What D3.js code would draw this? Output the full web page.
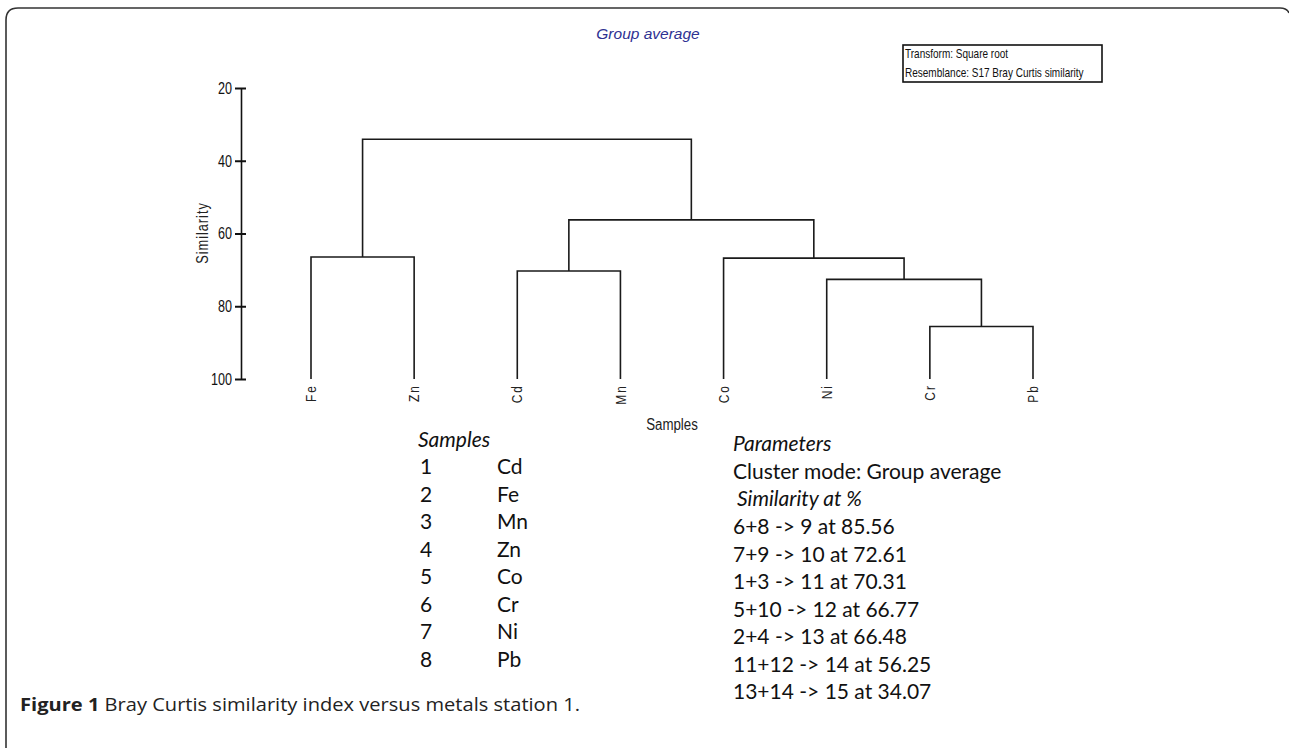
<!DOCTYPE html>
<html>
<head>
<meta charset="utf-8">
<script src="https://cdn.jsdelivr.net/npm/d3@7"></script>
<style>
  body { margin: 0; background: #fff; }
  svg { display: block; }
  .narrow { font-family: "Liberation Sans", Arial, sans-serif; }
  .calibri { font-family: Lato, "Open Sans", sans-serif; }
</style>
</head>
<body>
<div id="chart"></div>
<script>
// leaf order on the dendrogram
const leaves = ["Fe", "Zn", "Cd", "Mn", "Co", "Ni", "Cr", "Pb"];

// sample table
const sampleNums = [1, 2, 3, 4, 5, 6, 7, 8];
const sampleNames = ["Cd", "Fe", "Mn", "Zn", "Co", "Cr", "Ni", "Pb"];

// merge steps (group average)
const mergeLeft = [6, 7, 1, 5, 2, 11, 13];
const mergeRight = [8, 9, 3, 10, 4, 12, 14];
const mergeInto = [9, 10, 11, 12, 13, 14, 15];
const mergeSim = [85.56, 72.61, 70.31, 66.77, 66.48, 56.25, 34.07];

const yTicks = [20, 40, 60, 80, 100];

const W = 1289, H = 748;

// squeeze text horizontally to imitate a narrow font
function condense(sel, k) {
    sel.each(function () {
        const len = this.getComputedTextLength();
        d3.select(this).attr("textLength", len * k).attr("lengthAdjust", "spacingAndGlyphs");
    });
}

const svg = d3.select("#chart").append("svg")
    .attr("width", W)
    .attr("height", H);

// figure frame
svg.append("path")
    .attr("d", "M6,748 L6,20 Q6,8 18,8 L1280,8 Q1287,8 1289,13")
    .attr("fill", "none")
    .attr("stroke", "#333")
    .attr("stroke-width", 1.6);

// scales
const y = d3.scaleLinear().domain([20, 100]).range([88, 379]);
const x = d3.scalePoint().domain(leaves).range([311, 1033]);

// build tree from the merge list
const nodes = {};
sampleNums.forEach((n, i) => { nodes[n] = { name: sampleNames[i], sim: 100 }; });
mergeInto.forEach((n, i) => {
    nodes[n] = { name: "" + n, sim: mergeSim[i], children: [nodes[mergeLeft[i]], nodes[mergeRight[i]]] };
});
const root = d3.hierarchy(nodes[mergeInto[mergeInto.length - 1]]);

// leaves from the point scale, internal nodes at midpoint of children
root.eachAfter(d => {
    d.px = d.children ? d3.mean(d.children, c => c.px) : x(d.data.name);
    d.py = y(d.data.sim);
});

const g = svg.append("g").attr("class", "dendro");
root.descendants().filter(d => d.children).forEach(d => {
    const [a, b] = d.children;
    g.append("path")
        .attr("d", `M${a.px},${a.py} L${a.px},${d.py} L${b.px},${d.py} L${b.px},${b.py}`)
        .attr("fill", "none")
        .attr("stroke", "#1a1a1a")
        .attr("stroke-width", 1.6);
});

// y axis
const yAxis = svg.append("g")
    .attr("class", "axis narrow")
    .attr("transform", "translate(241,0)")
    .call(d3.axisLeft(y).tickValues(yTicks).tickSizeInner(6).tickSizeOuter(0).tickPadding(3));
yAxis.attr("font-family", null).attr("font-size", null);
yAxis.select(".domain").attr("stroke", "#111").attr("stroke-width", 1.6);
yAxis.selectAll(".tick line").attr("x2", -6).attr("x1", 5).attr("stroke", "#111").attr("stroke-width", 2);
yAxis.selectAll(".tick text").attr("font-size", 17).attr("fill", "#111").attr("x", -9);
condense(yAxis.selectAll(".tick text"), 0.74);

const yTitle = svg.append("text")
    .attr("class", "narrow")
    .attr("transform", "translate(208,233) rotate(-90)")
    .attr("text-anchor", "middle")
    .attr("font-size", 16)
    .attr("letter-spacing", 1.2)
    .attr("fill", "#222")
    .text("Similarity");
condense(yTitle, 0.8);

// leaf labels
const leafText = svg.append("g").selectAll("text")
    .data(root.leaves())
    .join("text")
    .attr("class", "narrow")
    .attr("transform", d => `translate(${d.px},384) rotate(-90)`)
    .attr("text-anchor", "end")
    .attr("dy", "0.35em")
    .attr("font-size", 14.5)
    .attr("letter-spacing", 2.5)
    .attr("fill", "#222")
    .text(d => d.data.name);
condense(leafText, 0.82);

const xTitle = svg.append("text")
    .attr("class", "narrow")
    .attr("x", 672).attr("y", 430)
    .attr("text-anchor", "middle")
    .attr("font-size", 16)
    .attr("fill", "#222")
    .text("Samples");
condense(xTitle, 0.83);

// title
svg.append("text")
    .attr("x", 648).attr("y", 39)
    .attr("text-anchor", "middle")
    .attr("font-family", "Liberation Sans, Arial, sans-serif")
    .attr("font-style", "italic")
    .attr("font-size", 15.5)
    .attr("fill", "#2e3192")
    .text("Group average");

// transform / resemblance box
const info = ["Transform: Square root", "Resemblance: S17 Bray Curtis similarity"];
svg.append("rect")
    .attr("x", 903).attr("y", 45).attr("width", 199).attr("height", 37)
    .attr("fill", "#fff").attr("stroke", "#111").attr("stroke-width", 1.6);
const infoText = svg.append("g").selectAll("text")
    .data(info)
    .join("text")
    .attr("class", "narrow")
    .attr("x", 905)
    .attr("y", (d, i) => 58 + i * 19)
    .attr("font-size", 13)
    .attr("fill", "#111")
    .text(d => d);
condense(infoText, 0.77);

// sample table
const rowH = 27.5;
const tbl = svg.append("g").attr("class", "calibri").attr("fill", "#111").attr("font-size", 21);
tbl.append("text").attr("x", 418).attr("y", 447).attr("font-style", "italic").text("Samples");
sampleNums.forEach((n, i) => {
    tbl.append("text").attr("x", 420).attr("y", 474 + i * rowH).text(n);
    tbl.append("text").attr("x", 497).attr("y", 474 + i * rowH).text(sampleNames[i]);
});

// parameters
const par = svg.append("g").attr("class", "calibri").attr("fill", "#111").attr("font-size", 21);
par.append("text").attr("x", 733).attr("y", 451).attr("font-style", "italic").text("Parameters");
par.append("text").attr("x", 733).attr("y", 479).text("Cluster mode: Group average");
par.append("text").attr("x", 737).attr("y", 506).attr("font-style", "italic").text("Similarity at %");
mergeInto.forEach((n, i) => {
    par.append("text")
        .attr("x", 733)
        .attr("y", 534 + i * rowH)
        .text(`${mergeLeft[i]}+${mergeRight[i]} -> ${n} at ${mergeSim[i].toFixed(2)}`);
});

// caption
const cap = svg.append("text")
    .attr("x", 20).attr("y", 711)
    .attr("font-family", "'Open Sans', 'Noto Sans', sans-serif")
    .attr("font-size", 18.5)
    .attr("fill", "#222");
cap.append("tspan").attr("font-weight", "bold").text("Figure 1");
cap.append("tspan").text(" Bray Curtis similarity index versus metals station 1.");
condense(cap, 560 / cap.node().getComputedTextLength());
</script>
</body>
</html>
